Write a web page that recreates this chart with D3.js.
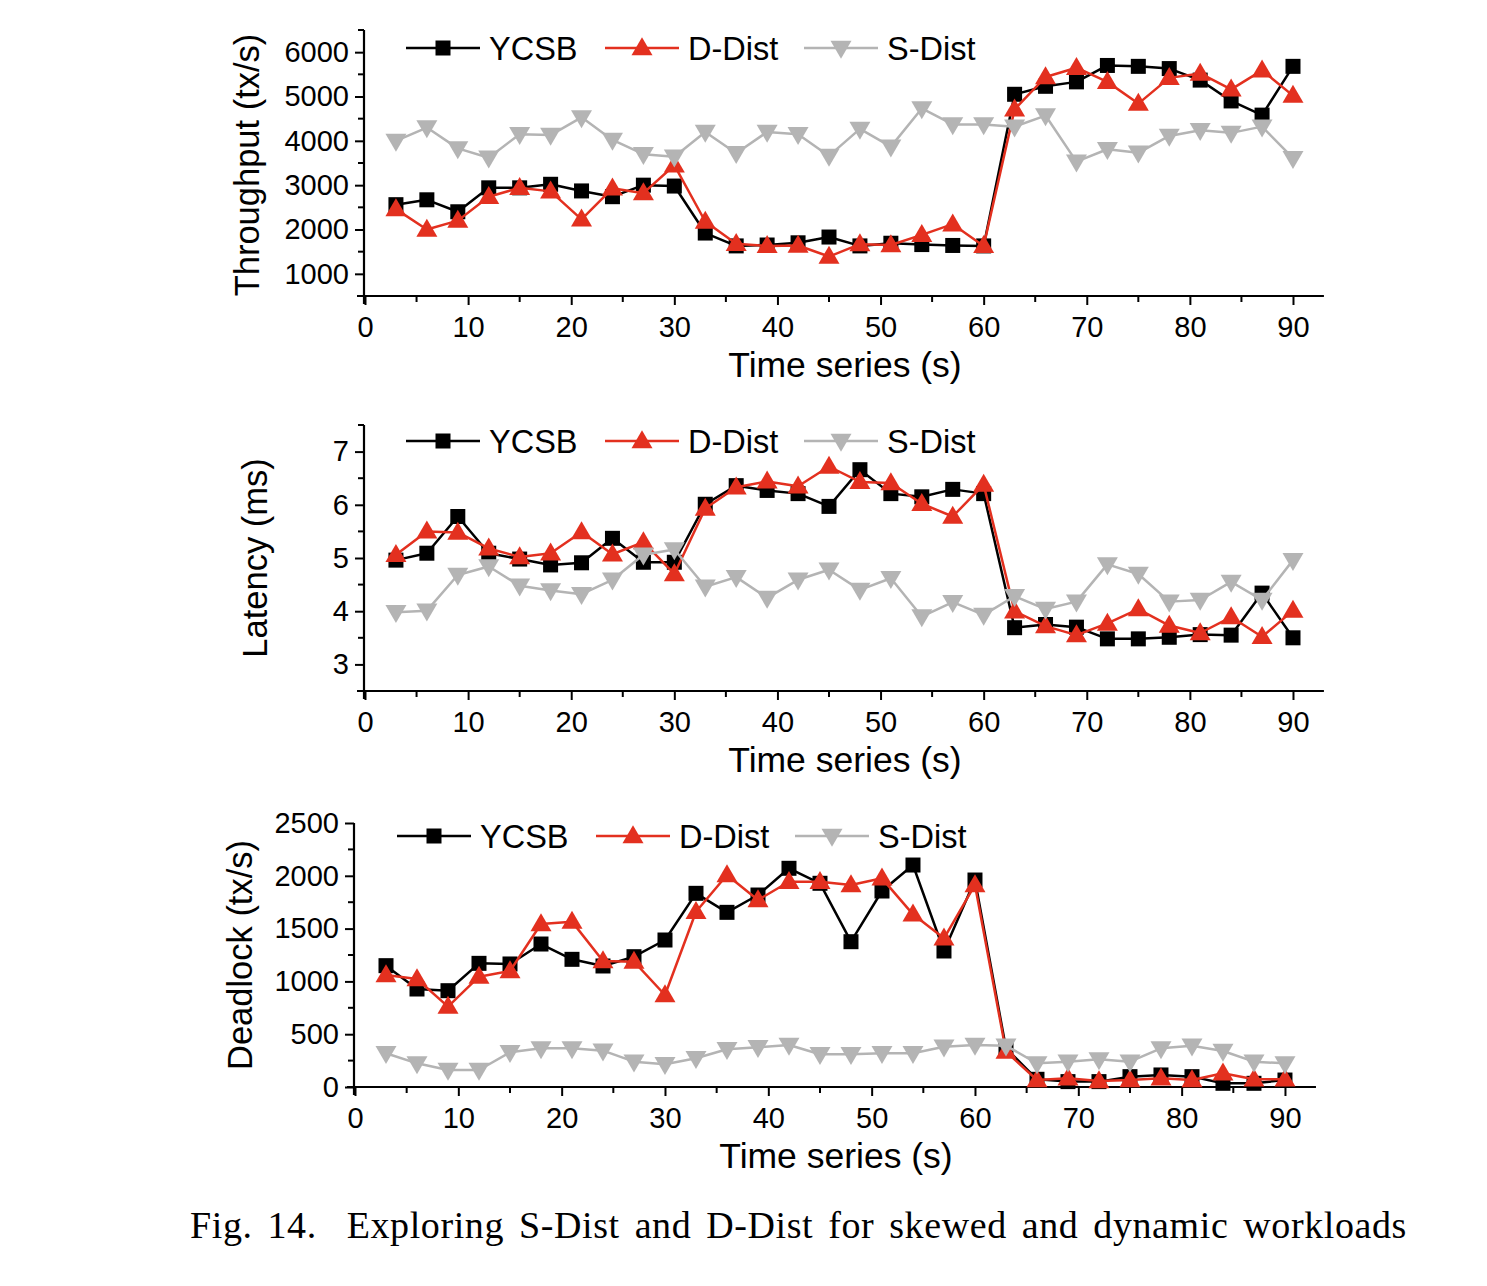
<!DOCTYPE html>
<html>
<head>
<meta charset="utf-8">
<script src="https://cdn.jsdelivr.net/npm/d3@7"></script>
<style>
  html, body { margin: 0; padding: 0; background: #fff; }
  svg { display: block; }
</style>
</head>
<body>
<svg id="chart" width="1487" height="1286"></svg>
<script>
// ---------------- DATA ----------------
const times = [3,6,9,12,15,18,21,24,27,30,33,36,39,42,45,48,51,54,57,60,63,66,69,72,75,78,81,84,87,90];
const seriesNames = ["YCSB", "D-Dist", "S-Dist"];

const throughputYCSB = [2560,2670,2400,2940,2940,3020,2870,2740,3000,2980,1920,1630,1650,1700,1830,1630,1690,1660,1640,1630,5050,5230,5330,5700,5680,5630,5370,4900,4580,5680];
const throughputDDist = [2460,2000,2200,2740,2940,2860,2230,2930,2820,3450,2180,1680,1630,1640,1390,1670,1650,1880,2120,1630,4710,5440,5650,5330,4840,5420,5520,5160,5590,5020];
const throughputSDist = [4000,4300,3830,3620,4150,4130,4530,4020,3700,3640,4200,3720,4200,4150,3660,4270,3870,4730,4370,4370,4320,4570,3530,3810,3730,4110,4240,4180,4320,3610];

const latencyYCSB = [4.96,5.09,5.78,5.09,4.98,4.87,4.91,5.37,4.92,4.92,6.01,6.36,6.27,6.21,5.97,6.66,6.21,6.15,6.29,6.21,3.69,3.75,3.70,3.48,3.48,3.51,3.56,3.55,4.34,3.50];
const latencyDDist = [5.06,5.50,5.48,5.18,5.02,5.09,5.49,5.07,5.30,4.70,5.93,6.33,6.44,6.35,6.72,6.43,6.41,6.02,5.78,6.38,4.00,3.72,3.55,3.77,4.04,3.73,3.59,3.89,3.52,4.01];
const latencySDist = [3.98,4.01,4.68,4.84,4.48,4.39,4.32,4.59,5.06,5.16,4.46,4.64,4.25,4.59,4.78,4.40,4.62,3.90,4.17,3.93,4.28,4.04,4.18,4.88,4.70,4.18,4.21,4.55,4.21,4.96];

const deadlockYCSB = [1149,928,912,1171,1165,1354,1209,1146,1234,1392,1834,1654,1818,2071,1929,1376,1856,2102,1288,1960,366,73,51,51,98,114,98,35,35,66];
const deadlockDDist = [1061,1023,761,1045,1098,1544,1566,1193,1187,871,1660,2008,1771,1944,1944,1913,1976,1635,1408,1913,335,66,82,57,66,82,66,130,73,73];
const deadlockSDist = [319,224,161,161,329,366,366,344,240,215,272,357,376,398,310,310,319,319,382,398,391,224,240,262,240,366,391,341,240,224];

const xTickValues = [0,10,20,30,40,50,60,70,80,90];
const throughputTicks = [1000,2000,3000,4000,5000,6000];
const latencyTicks = [3,4,5,6,7];
const deadlockTicks = [0,500,1000,1500,2000,2500];

const xTitle = "Time series (s)";
const caption = "Fig. 14.  Exploring S-Dist and D-Dist for skewed and dynamic workloads";

// ---------------- STYLE ----------------
const colors = ["#000000", "#e3301f", "#b4b4b4"];
const shapes = ["square", "up", "down"];
const FONT = "'Liberation Sans', Arial, Helvetica, sans-serif";

const svg = d3.select("#chart");

function marker(g, shape, cx, cy, color) {
  if (shape === "square") {
    g.append("rect").attr("x", cx - 7.5).attr("y", cy - 7.5).attr("width", 15).attr("height", 15).attr("fill", color);
  } else if (shape === "up") {
    const w = 10.5, h = 18;
    g.append("path").attr("d", `M${cx},${cy - h*0.6}L${cx + w},${cy + h*0.4}L${cx - w},${cy + h*0.4}Z`).attr("fill", color);
  } else {
    const w = 10.5, h = 18;
    g.append("path").attr("d", `M${cx},${cy + h*0.6}L${cx + w},${cy - h*0.4}L${cx - w},${cy - h*0.4}Z`).attr("fill", color);
  }
}

function panel(cfg) {
  const g = svg.append("g");
  const x = d3.scaleLinear().domain([0, 93]).range([cfg.x0, cfg.x0 + 93 * cfg.xUnit]);
  const y = d3.scaleLinear().domain(cfg.yDomain).range([cfg.bottom, cfg.top]);

  // x axis
  const xAxis = d3.axisBottom(x).tickValues(xTickValues).tickSize(9).tickSizeOuter(0).tickPadding(11);
  const xa = g.append("g").attr("transform", `translate(0,${cfg.bottom})`).call(xAxis);
  const xMinor = d3.range(5, 93, 10);
  xa.selectAll(".minor").data(xMinor).enter().append("line")
    .attr("x1", d => x(d)).attr("x2", d => x(d)).attr("y1", 0).attr("y2", 6)
    .attr("stroke", "#000").attr("stroke-width", 2);
  xa.select(".domain").attr("d", `M${cfg.x0 - 8},0H${x(93)}`);

  // y axis
  const yAxis = d3.axisLeft(y).tickValues(cfg.yTicks).tickSize(9).tickSizeOuter(0).tickPadding(6)
    .tickFormat(d3.format("d"));
  const ya = g.append("g").attr("transform", `translate(${cfg.x0 - 1},0)`).call(yAxis);
  ya.selectAll(".minor").data(cfg.yMinor).enter().append("line")
    .attr("x1", -6).attr("x2", 0).attr("y1", d => y(d)).attr("y2", d => y(d))
    .attr("stroke", "#000").attr("stroke-width", 2);
  ya.select(".domain").attr("d", `M0,${cfg.bottom + 8}V${cfg.top}`);

  [xa, ya].forEach(a => {
    a.selectAll(".domain").attr("stroke", "#000").attr("stroke-width", 2.2).attr("fill", "none");
    a.selectAll(".tick line").attr("stroke", "#000").attr("stroke-width", 2);
    a.selectAll(".tick text").attr("font-family", FONT).attr("font-size", 29).attr("fill", "#000");
  });

  // titles
  g.append("text").attr("x", cfg.xTitleX).attr("y", cfg.bottom + 81)
    .attr("text-anchor", "middle").attr("font-family", FONT).attr("font-size", 35.5).text(xTitle);
  g.append("text").attr("transform", `translate(${cfg.yTitleX},${cfg.yTitleY}) rotate(-90)`)
    .attr("text-anchor", "middle").attr("font-family", FONT).attr("font-size", 34.5).text(cfg.yTitle);

  // series
  const line = d3.line().x((d, i) => x(times[i])).y(d => y(d));
  cfg.series.forEach((vals, si) => {
    const sg = g.append("g");
    sg.append("path").attr("d", line(vals)).attr("fill", "none")
      .attr("stroke", colors[si]).attr("stroke-width", 2.5).attr("stroke-linejoin", "round");
    vals.forEach((v, i) => marker(sg, shapes[si], x(times[i]), y(v), colors[si]));
  });

  // legend
  const lg = g.append("g");
  seriesNames.forEach((name, si) => {
    const lx = cfg.legendX + si * 199;
    lg.append("line").attr("x1", lx).attr("x2", lx + 74).attr("y1", cfg.legendY).attr("y2", cfg.legendY)
      .attr("stroke", colors[si]).attr("stroke-width", 2.5);
    marker(lg, shapes[si], lx + 37, cfg.legendY, colors[si]);
    lg.append("text").attr("x", lx + 83).attr("y", cfg.legendY + 11.5)
      .attr("font-family", FONT).attr("font-size", 32.5).text(name);
  });
}

panel({
  x0: 365, xUnit: 10.311, top: 30, bottom: 296,
  yDomain: [500, 6500], yTicks: throughputTicks, yMinor: d3.range(500, 6501, 1000),
  yTitle: "Throughput (tx/s)", yTitleX: 259, yTitleY: 165, xTitleX: 845,
  series: [throughputYCSB, throughputDDist, throughputSDist],
  legendX: 406, legendY: 48
});

panel({
  x0: 365, xUnit: 10.311, top: 425, bottom: 691,
  yDomain: [2.5, 7.5], yTicks: latencyTicks, yMinor: d3.range(2.5, 7.51, 1),
  yTitle: "Latency (ms)", yTitleX: 267, yTitleY: 558, xTitleX: 845,
  series: [latencyYCSB, latencyDDist, latencySDist],
  legendX: 406, legendY: 441
});

panel({
  x0: 355, xUnit: 10.333, top: 823, bottom: 1087,
  yDomain: [0, 2500], yTicks: deadlockTicks, yMinor: d3.range(250, 2500, 500),
  yTitle: "Deadlock (tx/s)", yTitleX: 252, yTitleY: 955, xTitleX: 836,
  series: [deadlockYCSB, deadlockDDist, deadlockSDist],
  legendX: 397, legendY: 836
});

// caption
const cap = svg.append("text").attr("x", 190).attr("y", 1238)
  .attr("font-family", "'Liberation Serif', 'Times New Roman', serif").attr("font-size", 38)
  .attr("letter-spacing", 0.6)
  .attr("fill", "#000").attr("xml:space", "preserve").style("white-space", "pre").text(caption);
const target = 1407 - 190;
const w0 = cap.node().getComputedTextLength();
const spaces = (caption.match(/ /g) || []).length;
if (w0 < target) cap.attr("word-spacing", (target - w0) / spaces);
else cap.attr("textLength", target).attr("lengthAdjust", "spacingAndGlyphs");
</script>
</body>
</html>
